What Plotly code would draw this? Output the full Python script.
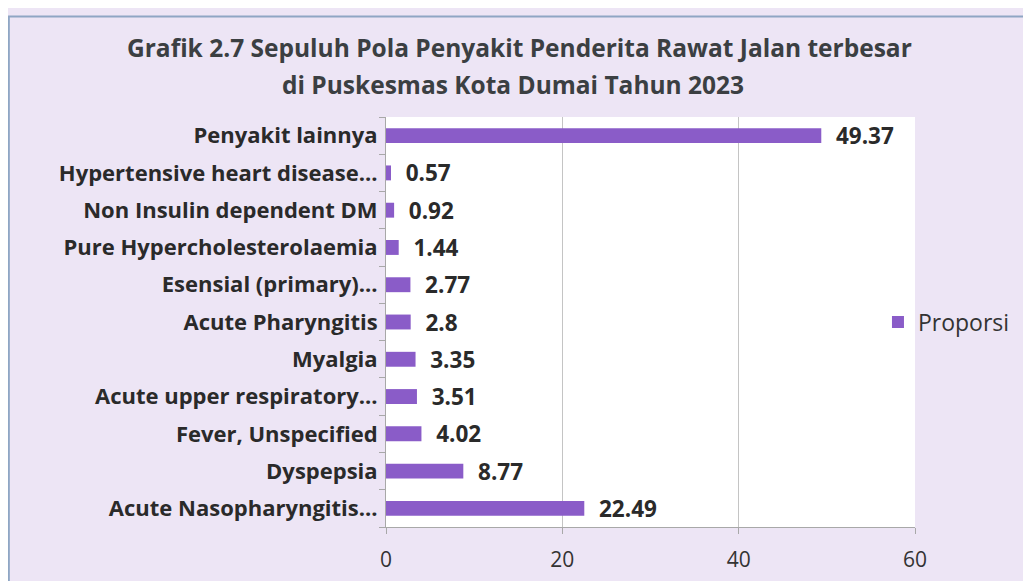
import plotly.graph_objects as go

categories = [
    "Acute Nasopharyngitis...",
    "Dyspepsia",
    "Fever, Unspecified",
    "Acute upper respiratory...",
    "Myalgia",
    "Acute Pharyngitis",
    "Esensial (primary)...",
    "Pure Hypercholesterolaemia",
    "Non Insulin dependent DM",
    "Hypertensive heart disease...",
    "Penyakit lainnya",
]
proporsi = [22.49, 8.77, 4.02, 3.51, 3.35, 2.8, 2.77, 1.44, 0.92, 0.57, 49.37]
x_ticks = [0, 20, 40, 60]
series_name = "Proporsi"
title_line1 = "Grafik 2.7 Sepuluh Pola Penyakit Penderita Rawat Jalan terbesar"
title_line2 = "di Puskesmas Kota Dumai Tahun 2023"

FONT = "Open Sans"
bar_color = "#8a5cc8"
text_dark = "#2a2a2a"

fig = go.Figure()
fig.add_trace(go.Bar(
    y=categories,
    x=proporsi,
    orientation="h",
    name=series_name,
    marker=dict(color=bar_color, line=dict(width=0)),
    text=[str(v) for v in proporsi],
    texttemplate="\u00a0\u00a0%{text}",
    textposition="outside",
    constraintext="none",
    cliponaxis=False,
    textfont=dict(family=FONT, size=22.5, color=text_dark, weight="bold"),
    showlegend=True,
))

fig.update_layout(
    width=1031,
    height=581,
    margin=dict(l=378, r=124, t=109, b=62),
    paper_bgcolor="#ede5f5",
    plot_bgcolor="#ffffff",
    bargap=0.6,
    xaxis=dict(
        range=[0, 60],
        tickvals=x_ticks,
        showgrid=True,
        gridcolor="#c4c4c4",
        gridwidth=1,
        zeroline=False,
        showline=True,
        linecolor="#a8a8a8",
        ticks="outside",
        ticklen=6,
        tickcolor="#a8a8a8",
        tickfont=dict(family=FONT, size=21, color="#333333"),
        ticklabelstandoff=8,
        fixedrange=True,
    ),
    yaxis=dict(
        showline=True,
        linecolor="#a8a8a8",
        ticks="outside",
        ticklen=6,
        tickcolor="#a8a8a8",
        tickson="boundaries",
        tickfont=dict(family=FONT, size=22, color=text_dark, weight="bold"),
        ticklabelstandoff=3,
        showgrid=False,
        fixedrange=True,
    ),
    legend=dict(
        x=0.93,
        y=0.5,
        xanchor="left",
        yanchor="middle",
        bgcolor="rgba(0,0,0,0)",
        font=dict(family=FONT, size=23, color="#333333"),
        itemwidth=30,
        tracegroupgap=0,
    ),
    annotations=[
        dict(text=title_line1, xref="paper", yref="paper", x=0.252, y=1.1705,
             xanchor="center", yanchor="middle", showarrow=False,
             font=dict(family=FONT, size=24.5, color="#3b3f42", weight="bold")),
        dict(text=title_line2, xref="paper", yref="paper", x=0.24, y=1.0785,
             xanchor="center", yanchor="middle", showarrow=False,
             font=dict(family=FONT, size=24.5, color="#3b3f42", weight="bold")),
    ],
    shapes=[
        dict(type="rect", xref="paper", yref="paper",
             x0=-0.713, x1=1.4, y0=-0.3, y1=1.245,
             line=dict(color="#8fa6c4", width=2), fillcolor="rgba(0,0,0,0)",
             layer="below"),
    ],
)

fig.write_html("out.html")
